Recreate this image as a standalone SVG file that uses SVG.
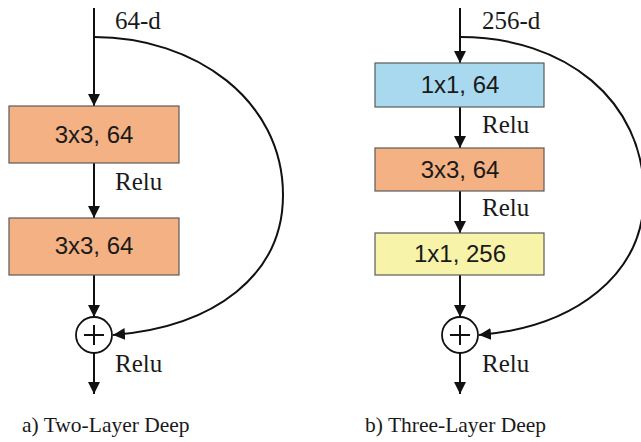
<svg xmlns="http://www.w3.org/2000/svg" width="641" height="442" viewBox="0 0 641 442">
<style>
.box{stroke:#5a5a5a;stroke-width:1.2}
.orange{fill:#F4B183}
.blue{fill:#A9D9EE}
.yellow{fill:#F7F3A8}
.lbl{font-family:"Liberation Sans",Arial,sans-serif;font-size:24px;fill:#1a1a1a;text-anchor:middle}
.ser{font-family:"Liberation Serif","Times New Roman",serif;font-size:25px;fill:#1a1a1a}
.cap{font-family:"Liberation Serif","Times New Roman",serif;font-size:21.5px;fill:#1a1a1a}
.ln{stroke:#111;stroke-width:2;fill:none}
.sum{fill:#fff;stroke:#111;stroke-width:1.8}
</style>
<defs>
<marker id="ah" markerUnits="userSpaceOnUse" markerWidth="13" markerHeight="12" refX="12" refY="6" orient="auto">
<path d="M0,0 L12,6 L0,12 z" fill="#111"/>
</marker>
</defs>
<rect width="641" height="442" fill="#fff"/>
<g id="connectors">
<line class="ln" x1="94" y1="8" x2="94" y2="106" marker-end="url(#ah)"/>
<line class="ln" x1="94" y1="163" x2="94" y2="218" marker-end="url(#ah)"/>
<line class="ln" x1="94" y1="275" x2="94" y2="317" marker-end="url(#ah)"/>
<line class="ln" x1="94" y1="353" x2="94" y2="394" marker-end="url(#ah)"/>
<path class="ln" d="M94,37 C195,37 283,100 283,195 C283,275 215,327 113,335" marker-end="url(#ah)"/>
<line class="ln" x1="460" y1="8" x2="460" y2="63" marker-end="url(#ah)"/>
<line class="ln" x1="460" y1="107" x2="460" y2="148" marker-end="url(#ah)"/>
<line class="ln" x1="460" y1="191" x2="460" y2="233" marker-end="url(#ah)"/>
<line class="ln" x1="460" y1="275" x2="460" y2="317" marker-end="url(#ah)"/>
<line class="ln" x1="460" y1="353" x2="460" y2="394" marker-end="url(#ah)"/>
<path class="ln" d="M460,37 C565,37 644,100 644,195 C644,275 575,327 479,335" marker-end="url(#ah)"/>
</g>
<g id="a-box1"><rect class="box orange" x="9" y="106" width="170" height="57"/><text class="lbl" x="94" y="143">3x3, 64</text></g>
<g id="a-box2"><rect class="box orange" x="9" y="218" width="170" height="57"/><text class="lbl" x="94" y="254">3x3, 64</text></g>
<g id="a-sum"><circle class="sum" cx="94" cy="335" r="18"/><path class="ln" d="M84,335 H104 M94,325 V345" stroke-width="1.8"/></g>
<g id="a-labels">
<text class="ser" x="115" y="29">64-d</text>
<text class="ser" x="115" y="190">Relu</text>
<text class="ser" x="115" y="372">Relu</text>
<text class="cap" x="22" y="432">a) Two-Layer Deep</text>
</g>
<g id="b-box1"><rect class="box blue" x="375" y="63" width="169" height="44"/><text class="lbl" x="460" y="93">1x1, 64</text></g>
<g id="b-box2"><rect class="box orange" x="375" y="148" width="169" height="43"/><text class="lbl" x="460" y="178">3x3, 64</text></g>
<g id="b-box3"><rect class="box yellow" x="375" y="233" width="169" height="42"/><text class="lbl" x="460" y="262">1x1, 256</text></g>
<g id="b-sum"><circle class="sum" cx="460" cy="335" r="18"/><path class="ln" d="M450,335 H470 M460,325 V345" stroke-width="1.8"/></g>
<g id="b-labels">
<text class="ser" x="482" y="29">256-d</text>
<text class="ser" x="482" y="133">Relu</text>
<text class="ser" x="482" y="216">Relu</text>
<text class="ser" x="482" y="372">Relu</text>
<text class="cap" x="365" y="432">b) Three-Layer Deep</text>
</g>
</svg>
